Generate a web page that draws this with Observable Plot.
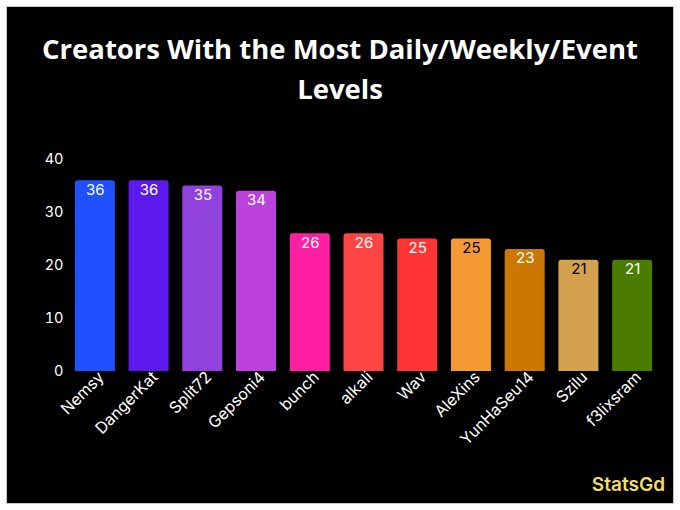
<!DOCTYPE html>
<html>
<head>
<meta charset="utf-8">
<script src="https://cdn.jsdelivr.net/npm/d3@7"></script>
<script src="https://cdn.jsdelivr.net/npm/@observablehq/plot@0.6"></script>
<style>
  html, body { margin: 0; padding: 0; background: #fff; }
  #card { position: absolute; left: 7px; top: 7px; width: 666px; height: 496px; background: #000; box-shadow: 0 0 0 1px #c8c8c8; overflow: hidden; }
  #title { position: absolute; top: 22px; left: 0; width: 100%; text-align: center; color: #fff; font: 700 27.5px "Open Sans", sans-serif; line-height: 40px; margin: 0; }
  #chart { position: absolute; top: 108px; left: 0; }
  #credit { position: absolute; right: 8px; top: 466px; color: #f3dc6a; font: 600 19px "Inter", sans-serif; }
  svg text { font-family: "Inter", sans-serif; }
</style>
</head>
<body>
<div id="card">
  <div id="title">Creators With the Most Daily/Weekly/Event<br>Levels</div>
  <div id="chart"></div>
  <div id="credit">StatsGd</div>
</div>
<script>
const creators = ["Nemsy","DangerKat","Split72","Gepsoni4","bunch","alkali","Wav","AleXins","YunHaSeu14","Szilu","f3lixsram"];
const levels = [36, 36, 35, 34, 26, 26, 25, 25, 23, 21, 21];
const barColors = ["#1e50ff","#5b1aeb","#9142dc","#bd42dd","#ff1fa3","#ff4444","#ff3535","#f59a32","#cc7700","#d4a24f","#4a7c00"];
const darkLabelCreators = ["AleXins","Szilu"];
const yTicks = [0, 10, 20, 30, 40];

const data = creators.map((name, i) => ({name, value: levels[i]}));

const chart = Plot.plot({
  width: 666,
  height: 388,
  marginLeft: 61,
  marginRight: 14,
  marginTop: 44,
  marginBottom: 132,
  style: {background: "transparent", color: "#fff", fontSize: "14px", fontFamily: "Inter, sans-serif"},
  x: {domain: creators, paddingInner: 0.255, paddingOuter: 0.1275, round: false, label: null},
  y: {domain: [0, 40], label: null},
  color: {domain: creators, range: barColors},
  marks: [
    Plot.axisY({ticks: yTicks, tickSize: 0, tickPadding: 5, fontSize: 14.5, label: null}),
    Plot.axisX({tickRotate: -45, tickSize: 0, tickPadding: 6, dx: 6, dy: -3, fontSize: 16, label: null}),
    Plot.barY(data, {x: "name", y: "value", fill: "name", ry1: 3}),
    Plot.text(data, {x: "name", y: "value", text: d => String(d.value), dy: 9, fontSize: 15,
      fill: d => darkLabelCreators.includes(d.name) ? "#000" : "#fff"})
  ]
});
document.getElementById("chart").appendChild(chart);
</script>
</body>
</html>
